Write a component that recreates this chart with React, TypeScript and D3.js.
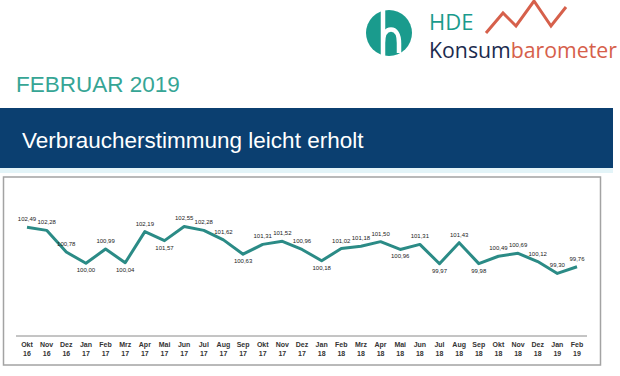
import React from "react";
import * as d3 from "d3";

const months = ["Okt","Nov","Dez","Jan","Feb","Mrz","Apr","Mai","Jun","Jul","Aug","Sep","Okt","Nov","Dez","Jan","Feb","Mrz","Apr","Mai","Jun","Jul","Aug","Sep","Okt","Nov","Dez","Jan","Feb"];
const years = ["16","16","16","17","17","17","17","17","17","17","17","17","17","17","17","18","18","18","18","18","18","18","18","18","18","18","18","19","19"];
const values = [102.49,102.28,100.78,100.0,100.99,100.04,102.19,101.57,102.55,102.28,101.62,100.63,101.31,101.52,100.96,100.18,101.02,101.18,101.5,100.96,101.31,99.97,101.43,99.98,100.49,100.69,100.12,99.3,99.76];
const labelBelow = [false,false,false,true,false,true,false,true,false,false,false,true,false,false,false,true,false,false,false,true,false,true,false,true,false,false,false,false,false];

const W = 620, H = 376;
const FONT = "'Liberation Sans', Arial, sans-serif";
const LOGO_FONT = "'Open Sans', 'Noto Sans', sans-serif";

export default function App() {
  const idx = values.map((_, i) => i);
  const x = d3.scalePoint<number>().domain(idx).range([27, 577]);
  const y = d3.scaleLinear().domain([95, 104]).range([335.6, 205.5]);
  const line = d3.line<number>().x((_, i) => x(i) as number).y((v) => y(v));
  const fmt = (v: number) => v.toFixed(2).replace(".", ",");
  const zig = d3.line()([[486, 33], [503, 13], [516, 26], [534, 1], [551, 26], [566, 7]]) as string;

  return (
    <svg width={W} height={H} style={{ position: "fixed", left: 0, top: 0, background: "#fff" }}>
      <rect x={0} y={0} width={W} height={H} fill="#fff" />
      {/* Logo */}
      <circle cx={389} cy={33} r={23} fill="#1a9b8d" />
      <path d="M383,10 V56 M383,43 C383,34 386.5,29.5 391,29.5 C395.5,29.5 399,34 399,43 V53" fill="none" stroke="#fff" strokeWidth={4.5} />
      <text x={429} y={30} fontFamily={LOGO_FONT} fontSize={22} fill="#1a9b8d">HDE</text>
      <path d={zig} fill="none" stroke="#d6604b" strokeWidth={3} strokeLinejoin="miter" />
      <text x={429} y={57.5} fontFamily={LOGO_FONT} fontSize={22} textLength={188} lengthAdjust="spacingAndGlyphs">
        <tspan fill="#1c2b4e">Konsum</tspan>
        <tspan fill="#d6604b">barometer</tspan>
      </text>

      {/* Header */}
      <text x={16} y={92} fontFamily={FONT} fontSize={22.5} fill="#36a595">FEBRUAR 2019</text>
      <rect x={0} y={108} width={613} height={60} fill="#0b3f70" />
      <rect x={0} y={168} width={613} height={5} fill="#e3f4f8" />
      <text x={22} y={147.5} fontFamily={FONT} fontSize={22.5} fill="#fff">Verbraucherstimmung leicht erholt</text>

      {/* Chart frame */}
      <rect x={3.5} y={177} width={597} height={188} fill="#fff" stroke="#a3a3a3" strokeWidth={1.5} />
      <line x1={16} x2={587} y1={336} y2={336} stroke="#8a8a8a" strokeWidth={1} />

      {/* Line */}
      <path d={line(values) as string} fill="none" stroke="#2b8b86" strokeWidth={3} strokeLinejoin="round" />

      {/* Data labels */}
      {values.map((v, i) => (
        <text key={"l" + i} x={x(i)} y={y(v) + (labelBelow[i] ? 9 : -6)} textAnchor="middle" fontFamily={FONT} fontSize={6} fill="#222">
          {fmt(v)}
        </text>
      ))}

      {/* X axis labels */}
      {months.map((m, i) => (
        <g key={"m" + i} fontFamily={FONT} fontSize={7} fontWeight="bold" fill="#333" textAnchor="middle">
          <text x={x(i)} y={347}>{m}</text>
          <text x={x(i)} y={355.5}>{years[i]}</text>
        </g>
      ))}
    </svg>
  );
}
